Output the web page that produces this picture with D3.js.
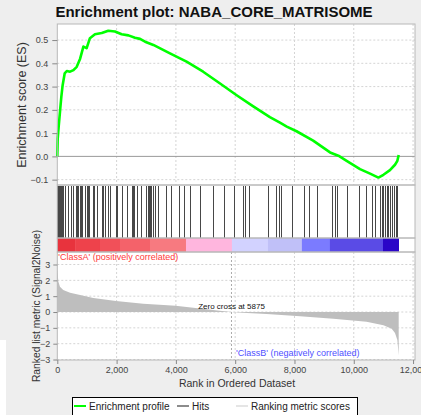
<!DOCTYPE html>
<html>
<head>
<meta charset="utf-8">
<script src="https://cdn.jsdelivr.net/npm/d3@7"></script>
<style>
  body { margin: 0; background: #eeeeee; }
  svg { display: block; font-family: "Liberation Sans", Arial, sans-serif; }
</style>
</head>
<body>
<svg id="chart"></svg>
<script>
// Running enrichment score (rank, ES)
const esRanks = [0, 13, 50, 100, 135, 180, 250, 320, 430, 545, 655, 770, 880, 990, 1100, 1270, 1500, 1720, 1945, 2170, 2400, 2620, 2790, 2960, 3240, 3800, 4360, 4920, 5490, 6050, 6610, 7170, 7510, 7740, 8070, 8630, 9200, 9480, 9760, 10210, 10550, 10830, 11000, 11220, 11390, 11470, 11515];
const esValues = [0, 0.075, 0.133, 0.205, 0.255, 0.306, 0.357, 0.367, 0.364, 0.371, 0.385, 0.42, 0.472, 0.465, 0.508, 0.525, 0.53, 0.54, 0.537, 0.525, 0.52, 0.51, 0.505, 0.493, 0.479, 0.443, 0.407, 0.364, 0.313, 0.263, 0.215, 0.169, 0.145, 0.128, 0.108, 0.068, 0.017, 0.003, -0.019, -0.055, -0.074, -0.091, -0.079, -0.059, -0.036, -0.019, 0.006];

// Ranks of the gene set members (hits)
const hitRanks = [5, 24, 57, 91, 125, 159, 192, 260, 361, 462, 530, 631, 664, 698, 766, 799, 833, 934, 1002, 1036, 1069, 1204, 1238, 1339, 1508, 1541, 1609, 1710, 1777, 1980, 2014, 2182, 2351, 2520, 2553, 2587, 2688, 2823, 2992, 3059, 3093, 3127, 3160, 3228, 3295, 3396, 3666, 3834, 4104, 4273, 4475, 4812, 5251, 5622, 5959, 6263, 6330, 6465, 7106, 7376, 7477, 7544, 7915, 8320, 8489, 8758, 9264, 9366, 9433, 9770, 10175, 10411, 10614, 10715, 10883, 10951, 10985, 11052, 11120, 11153, 11221, 11288, 11356, 11423, 11457];

// Ranked list metric (Signal2Noise)
const metricRanks = [0, 35, 90, 200, 430, 770, 1215, 1980, 2900, 3990, 4810, 5400, 5875, 6400, 7060, 8190, 9310, 10430, 11000, 11280, 11390, 11470, 11515];
const metricValues = [2.65, 1.93, 1.6, 1.39, 1.22, 1.07, 0.89, 0.69, 0.52, 0.39, 0.22, 0.1, 0, -0.06, -0.13, -0.26, -0.42, -0.61, -0.83, -1.05, -1.33, -1.76, -2.74];

// Colour bar bins (rank breaks and colours)
const colorBreaks = [0, 600, 1440, 2115, 3127, 4340, 5890, 7105, 8250, 9195, 10985, 11515];
const colorBins = ["#e8333d", "#ee424b", "#f15059", "#f4626a", "#f77a80", "#ffb6de", "#d2d2ff", "#c0c0f8", "#7b7bff", "#5a4be6", "#2a05c8"];

const xTicks = [0, 2000, 4000, 6000, 8000, 10000, 12000];
const esTicks = [-0.1, 0.0, 0.1, 0.2, 0.3, 0.4, 0.5];
const metricTicks = [-3, -2, -1, 0, 1, 2, 3];
const zeroCross = 5875;

const width = 421, height = 415;
const left = 57.3, right = 415;
const esTop = 24, esBottom = 185;
const hitTop = 185, hitBottom = 238;
const barTop = 238, barBottom = 252;
const mTop = 252, mBottom = 360;

const svg = d3.select("#chart").attr("width", width).attr("height", height);

const x = d3.scaleLinear().domain([0, 12065]).range([left, right]);
const yES = d3.scaleLinear().domain([-0.123, 0.569]).range([esBottom, esTop]);
const yM = d3.scaleLinear().domain([-3.03, 3.79]).range([mBottom, mTop]);

// white strip at the bottom-left edge
svg.append("rect").attr("x", 0).attr("y", 340).attr("width", 6).attr("height", 75).attr("fill", "#fff");

// panel backgrounds
svg.append("rect").attr("x", left).attr("y", esTop).attr("width", right - left).attr("height", mBottom - esTop).attr("fill", "#fff");

const gridColor = "#d4d4d4";

// --- top panel grid
svg.append("g").selectAll("line").data(esTicks.filter(d => d !== 0)).enter().append("line")
    .attr("x1", left).attr("x2", right)
    .attr("y1", d => yES(d)).attr("y2", d => yES(d))
    .attr("stroke", gridColor).attr("stroke-dasharray", "2,2");
svg.append("g").selectAll("line").data(xTicks.filter(d => d > 0)).enter().append("line")
    .attr("x1", d => x(d)).attr("x2", d => x(d))
    .attr("y1", esTop).attr("y2", esBottom)
    .attr("stroke", gridColor).attr("stroke-dasharray", "2,2");
svg.append("line").attr("x1", left).attr("x2", right)
    .attr("y1", yES(0)).attr("y2", yES(0)).attr("stroke", "#999");

// ES curve
const esData = esRanks.map((r, i) => [r, esValues[i]]);
svg.append("path").datum(esData)
    .attr("fill", "none").attr("stroke", "#00ff00").attr("stroke-width", 2.6)
    .attr("stroke-linejoin", "round")
    .attr("d", d3.line().x(d => x(d[0])).y(d => yES(d[1])));

// --- hits
svg.append("g").selectAll("line").data(hitRanks).enter().append("line")
    .attr("x1", d => Math.round(x(d)) + 0.5).attr("x2", d => Math.round(x(d)) + 0.5)
    .attr("y1", hitTop + 1).attr("y2", hitBottom)
    .attr("stroke", "#000").attr("stroke-opacity", 0.72).attr("stroke-width", 1);

// --- colour bar
svg.append("g").selectAll("rect").data(colorBins).enter().append("rect")
    .attr("x", (d, i) => x(colorBreaks[i]))
    .attr("width", (d, i) => x(colorBreaks[i + 1]) - x(colorBreaks[i]) + 0.3)
    .attr("y", barTop).attr("height", barBottom - barTop)
    .attr("fill", d => d);

// --- bottom panel grid
svg.append("g").selectAll("line").data(metricTicks).enter().append("line")
    .attr("x1", left).attr("x2", right)
    .attr("y1", d => yM(d)).attr("y2", d => yM(d))
    .attr("stroke", gridColor).attr("stroke-dasharray", "2,2");
svg.append("g").selectAll("line").data(xTicks.filter(d => d > 0)).enter().append("line")
    .attr("x1", d => x(d)).attr("x2", d => x(d))
    .attr("y1", mTop).attr("y2", mBottom)
    .attr("stroke", gridColor).attr("stroke-dasharray", "2,2");

// metric area
const mData = metricRanks.map((r, i) => [r, metricValues[i]]);
svg.append("path").datum(mData)
    .attr("fill", "#bebebe")
    .attr("d", d3.area().x(d => x(d[0])).y0(yM(0)).y1(d => yM(d[1])));

// zero cross line
svg.append("line").attr("x1", x(zeroCross)).attr("x2", x(zeroCross))
    .attr("y1", barBottom).attr("y2", mBottom)
    .attr("stroke", "#aaaaaa").attr("stroke-dasharray", "2,2");

svg.append("text").attr("x", x(zeroCross)).attr("y", 309)
    .attr("text-anchor", "middle").attr("font-size", 8).attr("fill", "#111")
    .text("Zero cross at " + zeroCross);

svg.append("text").attr("x", left + 1).attr("y", 259.5)
    .attr("font-size", 9).attr("fill", "#ff3a3a")
    .text("'ClassA' (positively correlated)");
svg.append("text").attr("x", 236).attr("y", 356)
    .attr("font-size", 9).attr("fill", "#5050ff")
    .text("'ClassB' (negatively correlated)");

// --- frames
const frameColor = "#b8b8b8";
[[esTop, esBottom], [hitTop, hitBottom], [barTop, barBottom], [mTop, mBottom]].forEach(p => {
    svg.append("rect").attr("x", left).attr("y", p[0])
        .attr("width", right - left).attr("height", p[1] - p[0])
        .attr("fill", "none").attr("stroke", frameColor);
});

// --- axes
function styleAxis(g) {
    g.select(".domain").remove();
    g.selectAll(".tick line").attr("stroke", "#888");
    g.selectAll(".tick text").attr("fill", "#444").attr("font-size", 9)
        .attr("font-family", "'Liberation Sans', Arial, sans-serif");
}

svg.append("g").attr("transform", `translate(${left},0)`)
    .call(d3.axisLeft(yES).tickValues(esTicks).tickFormat(d3.format(".1f")).tickSize(5).tickPadding(4))
    .call(styleAxis);

svg.append("g").attr("transform", `translate(${left},0)`)
    .call(d3.axisLeft(yM).tickValues(metricTicks).tickFormat(d3.format("d")).tickSize(4).tickPadding(3))
    .call(styleAxis);

svg.append("g").attr("transform", `translate(0,${mBottom})`)
    .call(d3.axisBottom(x).tickValues(xTicks).tickFormat(d3.format(",")).tickSize(4).tickPadding(3))
    .call(styleAxis);

// --- titles
svg.append("text").attr("x", 214).attr("y", 17).attr("text-anchor", "middle")
    .attr("font-size", 15).attr("font-weight", "bold").attr("fill", "#111")
    .text("Enrichment plot: NABA_CORE_MATRISOME");

svg.append("text").attr("transform", "translate(26,105) rotate(-90)")
    .attr("text-anchor", "middle").attr("font-size", 12.5).attr("fill", "#333")
    .text("Enrichment score (ES)");

svg.append("text").attr("transform", "translate(40,306) rotate(-90)")
    .attr("text-anchor", "middle").attr("font-size", 10.3).attr("fill", "#333")
    .text("Ranked list metric (Signal2Noise)");

svg.append("text").attr("x", 237).attr("y", 387).attr("text-anchor", "middle")
    .attr("font-size", 10.5).attr("fill", "#333")
    .text("Rank in Ordered Dataset");

// --- legend
const lg = svg.append("g");
lg.append("rect").attr("x", 72.5).attr("y", 397.5).attr("width", 285).attr("height", 30)
    .attr("fill", "#fff").attr("stroke", "#000");
const legendItems = [
    { label: "Enrichment profile", color: "#00ff00", x: 74, w: 2 },
    { label: "Hits", color: "#666", x: 177, w: 1.5 },
    { label: "Ranking metric scores", color: "#dddddd", x: 236, w: 1.5 }
];
legendItems.forEach(it => {
    lg.append("line").attr("x1", it.x).attr("x2", it.x + 12).attr("y1", 406).attr("y2", 406)
        .attr("stroke", it.color).attr("stroke-width", it.w);
    lg.append("text").attr("x", it.x + 15).attr("y", 409.5).attr("font-size", 10).attr("fill", "#222")
        .text(it.label);
});
</script>
</body>
</html>
